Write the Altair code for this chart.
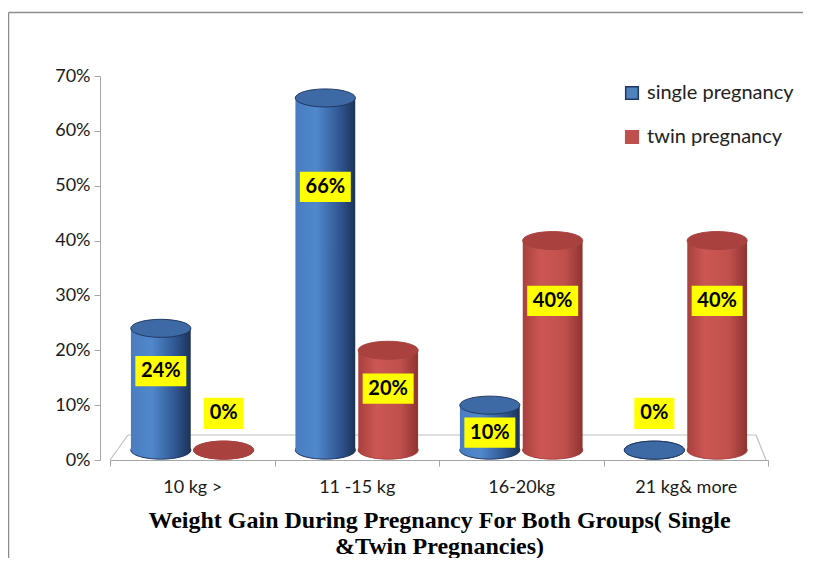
import altair as alt
import pandas as pd

categories = ["10 kg >", "11 -15 kg", "16-20kg", "21 kg& more"]
series = ["single pregnancy", "twin pregnancy"]
single_values = [0.24, 0.66, 0.10, 0.00]
twin_values = [0.00, 0.20, 0.40, 0.40]
y_ticks = [0, 0.1, 0.2, 0.3, 0.4, 0.5, 0.6, 0.7]
title_lines = ["Weight Gain During Pregnancy For Both Groups( Single", "&Twin Pregnancies)"]

rows = []
for c, s, t in zip(categories, single_values, twin_values):
    rows.append({"category": c, "series": series[0], "value": s})
    rows.append({"category": c, "series": series[1], "value": t})
df = pd.DataFrame(rows)

W, H = 658, 384
BASE = 0.018  # visual lift of the 3D floor
ELLIPSE = ("M-1,0 C-1,-0.1657 -0.5523,-0.3 0,-0.3 C0.5523,-0.3 1,-0.1657 1,0 "
           "C1,0.1657 0.5523,0.3 0,0.3 C-0.5523,0.3 -1,0.1657 -1,0 Z")
BOX_WIDE = "M-0.98,-0.58 L0.98,-0.58 L0.98,0.58 L-0.98,0.58 Z"
BOX_NARROW = "M-0.77,-0.6 L0.77,-0.6 L0.77,0.6 L-0.77,0.6 Z"

AXIS_GRAY = "#a6a6a6"
FONT = "Lato"

X = alt.X(
    "category:N", sort=categories,
    scale=alt.Scale(paddingInner=0, paddingOuter=0),
    axis=alt.Axis(
        title=title_lines, labelAngle=0, domainColor=AXIS_GRAY, tickColor=AXIS_GRAY,
        tickSize=6, tickBand="extent", labelFont=FONT, labelFontSize=18,
        labelColor="#1a1a1a", labelPadding=12, titleFont="Liberation Serif",
        titleFontSize=24, titleFontWeight="bold", titleColor="black",
        titlePadding=12, titleLineHeight=26, grid=False,
    ),
)
XO = alt.XOffset(
    "series:N",
    scale=alt.Scale(domain=series, paddingInner=0.048, paddingOuter=0.333, align=0.5),
)
Y_AXIS = alt.Axis(
    values=y_ticks, format=".0%", offset=10, domainColor=AXIS_GRAY, tickColor=AXIS_GRAY,
    tickSize=6, labelFont=FONT, labelFontSize=18, labelColor="#1a1a1a",
    labelPadding=4, grid=False, title=None,
)
Y_SCALE = alt.Scale(domain=[0, 0.7])


def grad(stops):
    return alt.LinearGradient(
        gradient="linear", x1=0, x2=1, y1=0, y2=0,
        stops=[alt.GradientStop(offset=o, color=c) for o, c in stops],
    )


blue_grad = grad([(0, "#4a7cc0"), (0.35, "#5088cc"), (0.75, "#2f5590"), (1, "#1c3354")])
red_grad = grad([(0, "#a8403d"), (0.3, "#cc5753"), (0.7, "#c0504d"), (1, "#8e3431")])

base = alt.Chart(df).transform_calculate(
    y0=str(BASE),
    ytop=f"max(datum.value, {BASE})",
)


def Yf(field):
    return alt.Y(f"{field}:Q", scale=Y_SCALE, axis=Y_AXIS)


def series_layers(name, gradient, top_fill, top_stroke, edge):
    d = base.transform_filter(alt.datum.series == name)
    bottom = d.mark_point(shape=ELLIPSE, size=3600, filled=True, fill=gradient,
                          stroke=edge, strokeWidth=1, opacity=1).encode(
        x=X, xOffset=XO, y=Yf("y0"))
    bar = d.mark_bar(fill=gradient).encode(x=X, xOffset=XO, y=Yf("ytop"), y2="y0:Q")
    top = d.mark_point(shape=ELLIPSE, size=3600, filled=True, fill=top_fill,
                       stroke=top_stroke, strokeWidth=1, opacity=1).encode(
        x=X, xOffset=XO, y=Yf("ytop"))
    return [bottom, bar, top]


layers = []

one = pd.DataFrame({"d": [0]})
frame_color = "#8c8c8c"
layers.append(alt.Chart(one).mark_rule(color=frame_color, strokeWidth=1.5).encode(
    x=alt.value(-101.5), y=alt.value(-63.5), y2=alt.value(H + 120)))
layers.append(alt.Chart(one).mark_rule(color=frame_color, strokeWidth=1.5).encode(
    x=alt.value(-101.5), x2=alt.value(W + 60), y=alt.value(-63.5)))
# 3D floor outline
floor = "#bfbfbf"
layers.append(alt.Chart(one).mark_rule(color=floor, strokeWidth=1.2).encode(
    x=alt.value(18), x2=alt.value(646), y=alt.value(359)))
layers.append(alt.Chart(one).mark_rule(color=floor, strokeWidth=1.2).encode(
    x=alt.value(0), x2=alt.value(18), y=alt.value(384), y2=alt.value(359)))
layers.append(alt.Chart(one).mark_rule(color=floor, strokeWidth=1.2).encode(
    x=alt.value(656), x2=alt.value(646), y=alt.value(384), y2=alt.value(359)))

layers += series_layers(series[0], blue_grad, "#3d6aa4", "#1f3864", "#1f3864")
layers += series_layers(series[1], red_grad, "#a9423f", "#a9423f", "#a9423f")

labels = base.transform_calculate(
    label_y="datum.value == 0 ? 0.085 : datum.value * 0.8 - 0.03",
    box="datum.value >= 0.1 ? 'wide' : 'narrow'",
)
layers.append(labels.mark_point(filled=True, fill="#ffff00", size=2704, opacity=1,
                                strokeWidth=0).encode(
    x=X, xOffset=XO, y=Yf("label_y"),
    shape=alt.Shape("box:N", scale=alt.Scale(domain=["wide", "narrow"],
                                             range=[BOX_WIDE, BOX_NARROW]), legend=None),
))
layers.append(labels.mark_text(font=FONT, fontSize=20, fontWeight="bold", color="black",
                               baseline="middle", align="center").encode(
    x=X, xOffset=XO, y=Yf("label_y"), text=alt.Text("value:Q", format=".0%")))

LEG = dict(title=None, orient="none", legendX=512, legendY=7, symbolType="square",
           symbolSize=160, symbolStrokeWidth=1.5, symbolOpacity=1, labelFont=FONT,
           labelFontSize=20, labelColor="#222222", rowPadding=24, labelOffset=5)
layers.append(base.mark_square(opacity=0, size=1).encode(
    x=X, xOffset=XO, y=Yf("value"),
    color=alt.Color("series:N", scale=alt.Scale(domain=series, range=["#4f81bd", "#c0504d"]),
                    legend=alt.Legend(**LEG)),
    stroke=alt.Stroke("series:N", scale=alt.Scale(domain=series, range=["#1f3864", "#c0504d"]),
                      legend=alt.Legend(**LEG)),
))

chart = alt.layer(*layers).properties(
    width=W, height=H,
    autosize=alt.AutoSizeParams(type="none"),
    padding={"left": 102, "top": 68, "right": 35, "bottom": 98},
).configure_view(stroke=None)

chart.save("out.html", embed_options={"renderer": "svg", "actions": False})
